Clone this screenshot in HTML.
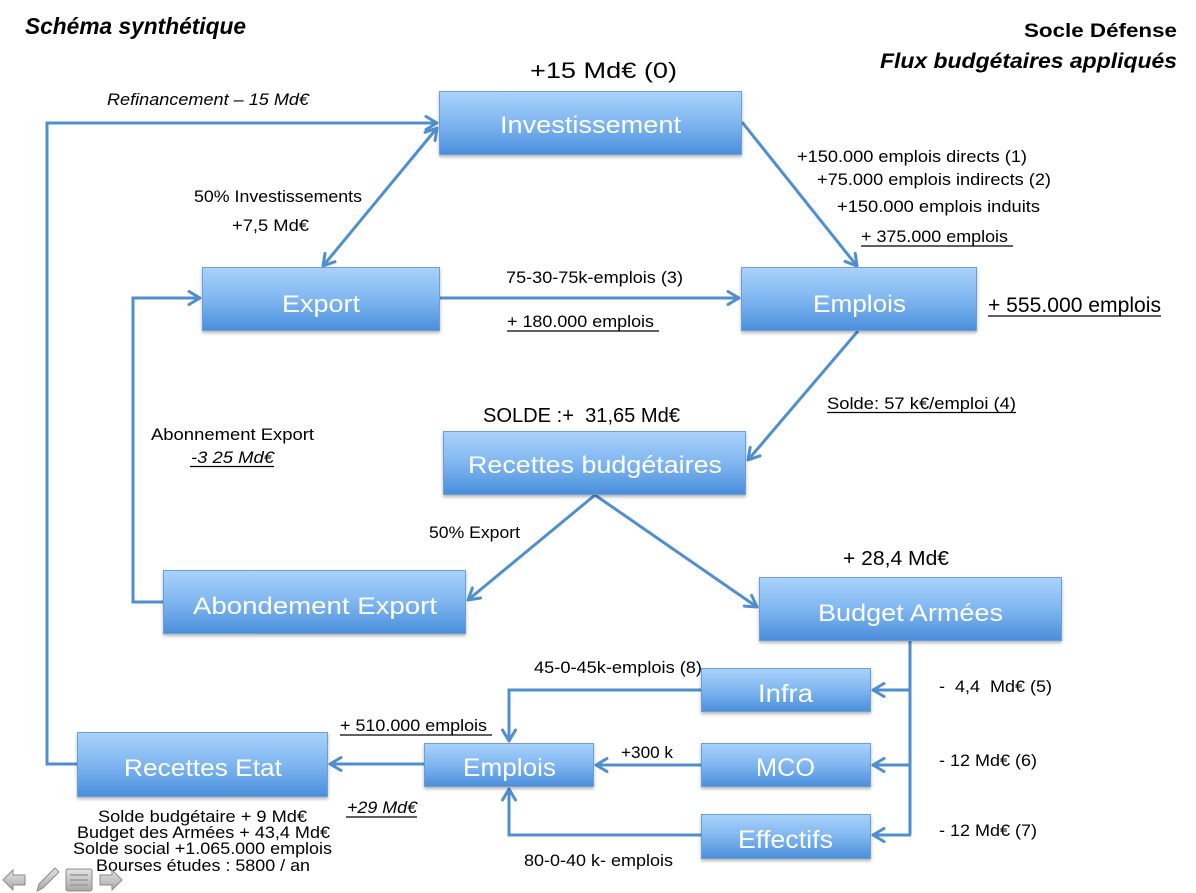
<!DOCTYPE html>
<html><head><meta charset="utf-8"><style>
html,body{margin:0;padding:0;background:#fff;}
svg{display:block;}
text{font-family:"Liberation Sans",sans-serif;}
.w{fill:#fff;font-size:24px;}
.l{fill:#000;font-size:16.5px;}
</style></head><body>
<svg width="1196" height="893" viewBox="0 0 1196 893" xmlns="http://www.w3.org/2000/svg">
<defs>
<linearGradient id="g" x1="0" y1="0" x2="0" y2="1">
<stop offset="0" stop-color="#aad2fb"/>
<stop offset="0.5" stop-color="#7fb6f0"/>
<stop offset="1" stop-color="#4a8edb"/>
</linearGradient>
<filter id="sh" x="-5%" y="-10%" width="110%" height="130%">
<feDropShadow dx="0" dy="2" stdDeviation="1.5" flood-color="#000" flood-opacity="0.3"/>
</filter>
<marker id="a" viewBox="0 0 16 16" refX="14" refY="8" markerWidth="16" markerHeight="16" markerUnits="userSpaceOnUse" orient="auto-start-reverse">
<path d="M3,1.5 L14,8 L3,14.5" fill="none" stroke="#4f8fd0" stroke-width="3" stroke-linecap="round" stroke-linejoin="round"/>
</marker>
<linearGradient id="ic" x1="0" y1="0" x2="0" y2="1">
<stop offset="0" stop-color="#e4e4e4"/>
<stop offset="1" stop-color="#a8a8a8"/>
</linearGradient>
</defs>

<!-- connectors -->
<g fill="none" stroke="#4f8fd0" stroke-width="3">
<polyline points="77,764 47,764 47,123 437,123" marker-end="url(#a)"/>
<line x1="437" y1="128" x2="323" y2="266" marker-start="url(#a)" marker-end="url(#a)"/>
<line x1="742" y1="122" x2="857" y2="266" marker-end="url(#a)"/>
<line x1="440" y1="298" x2="739" y2="298" marker-end="url(#a)"/>
<line x1="858" y1="331" x2="748" y2="460" marker-end="url(#a)"/>
<line x1="595" y1="495" x2="468" y2="600" marker-end="url(#a)"/>
<line x1="595" y1="495" x2="757" y2="607" marker-end="url(#a)"/>
<polyline points="163,602 133,602 133,298 200,298" marker-end="url(#a)"/>
<polyline points="910,641 910,835"/>
<line x1="910" y1="690" x2="873" y2="690" marker-end="url(#a)"/>
<line x1="910" y1="765" x2="873" y2="765" marker-end="url(#a)"/>
<line x1="911" y1="835" x2="873" y2="835" marker-end="url(#a)"/>
<polyline points="701,690 509,690 509,741" marker-end="url(#a)"/>
<line x1="701" y1="765" x2="596" y2="765" marker-end="url(#a)"/>
<polyline points="701,835 509,835 509,789" marker-end="url(#a)"/>
<line x1="424" y1="764" x2="330" y2="764" marker-end="url(#a)"/>
</g>

<!-- boxes -->
<g fill="url(#g)" stroke="#6a9fd8" stroke-width="1" filter="url(#sh)">
<rect x="439.5" y="91.5" width="302" height="63"/>
<rect x="202.5" y="267.5" width="237" height="63"/>
<rect x="741.5" y="267.5" width="235" height="63"/>
<rect x="443.5" y="431.5" width="302" height="63"/>
<rect x="163.5" y="570.5" width="302" height="63"/>
<rect x="759.5" y="577.5" width="302" height="63"/>
<rect x="701.5" y="668.5" width="169" height="43"/>
<rect x="701.5" y="743.5" width="169" height="43"/>
<rect x="701.5" y="814.5" width="169" height="44"/>
<rect x="424.5" y="743.5" width="169" height="43"/>
<rect x="77.5" y="732.5" width="250" height="64"/>
</g>

<!-- box labels -->
<g>
<text class="w" x="500" y="133" textLength="181" lengthAdjust="spacingAndGlyphs">Investissement</text>
<text class="w" x="282" y="312" textLength="78" lengthAdjust="spacingAndGlyphs">Export</text>
<text class="w" x="813" y="312" textLength="93" lengthAdjust="spacingAndGlyphs">Emplois</text>
<text class="w" x="468" y="473" textLength="254" lengthAdjust="spacingAndGlyphs">Recettes budgétaires</text>
<text class="w" x="193" y="614" textLength="244" lengthAdjust="spacingAndGlyphs">Abondement Export</text>
<text class="w" x="818" y="621" textLength="185" lengthAdjust="spacingAndGlyphs">Budget Armées</text>
<text class="w" x="758" y="702" textLength="55" lengthAdjust="spacingAndGlyphs" style="font-size:25px">Infra</text>
<text class="w" x="756" y="776" textLength="59" lengthAdjust="spacingAndGlyphs" style="font-size:25px">MCO</text>
<text class="w" x="738" y="848" textLength="95" lengthAdjust="spacingAndGlyphs" style="font-size:25px">Effectifs</text>
<text class="w" x="463" y="776" textLength="93" lengthAdjust="spacingAndGlyphs" style="font-size:25px">Emplois</text>
<text class="w" x="124" y="776" textLength="158" lengthAdjust="spacingAndGlyphs">Recettes Etat</text>
</g>

<!-- titles -->
<text x="25" y="34" textLength="221" lengthAdjust="spacingAndGlyphs" style="font-size:23px;font-weight:bold;font-style:italic">Schéma synthétique</text>
<text x="1024" y="37" textLength="153" lengthAdjust="spacingAndGlyphs" style="font-size:19px;font-weight:bold">Socle Défense</text>
<text x="880" y="68" textLength="297" lengthAdjust="spacingAndGlyphs" style="font-size:21px;font-weight:bold;font-style:italic">Flux budgétaires appliqués</text>

<!-- labels -->
<text x="530" y="78" textLength="147" lengthAdjust="spacingAndGlyphs" style="font-size:22px">+15 Md€ (0)</text>
<text class="l" x="107" y="105" textLength="202" lengthAdjust="spacingAndGlyphs" style="font-style:italic">Refinancement – 15 Md€</text>
<text class="l" x="194" y="202" textLength="168" lengthAdjust="spacingAndGlyphs">50% Investissements</text>
<text class="l" x="232" y="231" textLength="77" lengthAdjust="spacingAndGlyphs">+7,5 Md€</text>
<text class="l" x="797" y="162" textLength="230" lengthAdjust="spacingAndGlyphs">+150.000 emplois directs (1)</text>
<text class="l" x="817" y="185" textLength="234" lengthAdjust="spacingAndGlyphs">+75.000 emplois indirects (2)</text>
<text class="l" x="837" y="212" textLength="203" lengthAdjust="spacingAndGlyphs">+150.000 emplois induits</text>
<text class="l" x="861" y="242" textLength="147" lengthAdjust="spacingAndGlyphs">+ 375.000 emplois</text>
<text x="988" y="312" textLength="173" lengthAdjust="spacingAndGlyphs" style="font-size:21px">+ 555.000 emplois</text>
<text class="l" x="506" y="283" textLength="177" lengthAdjust="spacingAndGlyphs">75-30-75k-emplois (3)</text>
<text class="l" x="507" y="327" textLength="147" lengthAdjust="spacingAndGlyphs">+ 180.000 emplois</text>
<text class="l" x="827" y="409" textLength="189" lengthAdjust="spacingAndGlyphs">Solde: 57 k€/emploi (4)</text>
<text x="483" y="422" textLength="197" lengthAdjust="spacingAndGlyphs" style="font-size:20px" xml:space="preserve">SOLDE :+  31,65 Md€</text>
<text class="l" x="151" y="440" textLength="163" lengthAdjust="spacingAndGlyphs">Abonnement Export</text>
<text class="l" x="191" y="463" textLength="83" lengthAdjust="spacingAndGlyphs" style="font-style:italic">-3 25 Md€</text>
<text class="l" x="429" y="538" textLength="91" lengthAdjust="spacingAndGlyphs">50% Export</text>
<text x="843" y="565" textLength="106" lengthAdjust="spacingAndGlyphs" style="font-size:20px">+ 28,4 Md€</text>
<text class="l" x="534" y="673" textLength="168" lengthAdjust="spacingAndGlyphs">45-0-45k-emplois (8)</text>
<text class="l" x="340" y="731" textLength="147" lengthAdjust="spacingAndGlyphs">+ 510.000 emplois</text>
<text class="l" x="621" y="758" textLength="52" lengthAdjust="spacingAndGlyphs">+300 k</text>
<text class="l" x="347" y="813" textLength="70" lengthAdjust="spacingAndGlyphs" style="font-style:italic">+29 Md€</text>
<text class="l" x="939" y="692" textLength="113" lengthAdjust="spacingAndGlyphs" xml:space="preserve">-  4,4  Md€ (5)</text>
<text class="l" x="939" y="766" textLength="98" lengthAdjust="spacingAndGlyphs">- 12 Md€ (6)</text>
<text class="l" x="939" y="836" textLength="98" lengthAdjust="spacingAndGlyphs">- 12 Md€ (7)</text>
<text class="l" x="524" y="866" textLength="149" lengthAdjust="spacingAndGlyphs">80-0-40 k- emplois</text>
<text class="l" x="98" y="822" textLength="209" lengthAdjust="spacingAndGlyphs">Solde budgétaire + 9 Md€</text>
<text class="l" x="77" y="838" textLength="253" lengthAdjust="spacingAndGlyphs">Budget des Armées + 43,4 Md€</text>
<text class="l" x="73" y="854" textLength="259" lengthAdjust="spacingAndGlyphs">Solde social +1.065.000 emplois</text>
<text class="l" x="96" y="871" textLength="214" lengthAdjust="spacingAndGlyphs">Bourses études : 5800 / an</text>

<!-- underlines -->
<g stroke="#000" stroke-width="1.2">
<line x1="861" y1="246" x2="1013" y2="246"/>
<line x1="988" y1="316" x2="1161" y2="316"/>
<line x1="507" y1="331" x2="659" y2="331"/>
<line x1="827" y1="412.5" x2="1016" y2="412.5"/>
<line x1="190" y1="466.5" x2="274" y2="466.5"/>
<line x1="340" y1="735" x2="492" y2="735"/>
<line x1="346" y1="817" x2="417" y2="817"/>
</g>

<!-- bottom-left nav icons -->
<g stroke="#8a8a8a" stroke-width="1" fill="url(#ic)">
<path d="M3,880 L13,870 L13,875 L25,875 L25,885 L13,885 L13,890 Z"/>
<path d="M37,891 L39,884 L55,868 L59,872 L43,888 Z"/>
<rect x="66" y="869" width="26" height="22" rx="2"/>
<path d="M122,880 L112,870 L112,875 L100,875 L100,885 L112,885 L112,890 Z"/>
</g>
<g stroke="#9a9a9a" stroke-width="1.5">
<line x1="70" y1="875" x2="88" y2="875"/>
<line x1="70" y1="880" x2="88" y2="880"/>
<line x1="70" y1="885" x2="88" y2="885"/>
</g>
</svg>
</body></html>
